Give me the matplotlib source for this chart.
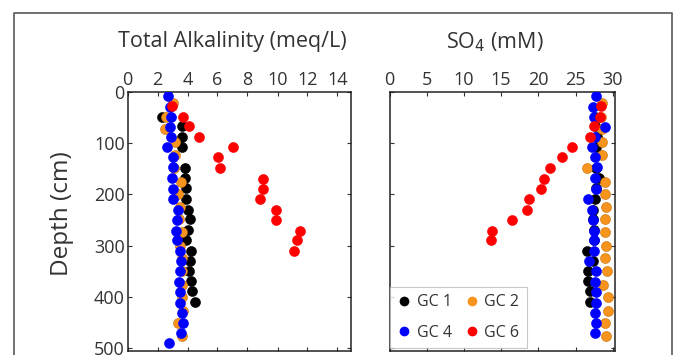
import numpy as np
import matplotlib
matplotlib.use("Agg")
import matplotlib.pyplot as plt
from matplotlib.lines import Line2D

plt.rcParams['font.family'] = ['Open Sans', 'DejaVu Sans']

nan = np.nan
# GC 1
depth_gc1 = [49, 67, 87, 108, 149, 168, 188, 209, 230, 249, 270, 290, 311, 330, 350, 370, 389, 410]
alk_gc1 = [2.27, 3.6, 3.65, 3.6, 3.82, 3.82, 3.89, 3.93, 4.04, 4.15, 4.04, 3.93, 4.2, 4.15, 4.11, 4.2, 4.33, 4.49]
so4_gc1 = [27.6, 27.6, 27.9, 27.7, 27.7, 28.2, 27.8, 27.6, 27.4, 27.4, 27.5, 27.5, 26.5, 27.4, 26.7, 26.7, 27.0, 27.0]
# GC 2
depth_gc2 = [22, 48, 73, 98, 123, 149, 175, 199, 224, 249, 274, 300, 325, 350, 377, 401, 428, 452, 477]
alk_gc2 = [3.04, 2.55, 2.49, 3.15, 3.15, 3.1, 3.55, 3.37, 3.49, 3.4, 3.6, 3.5, 3.6, 3.6, 3.66, 3.6, 3.71, 3.37, 3.6]
so4_gc2 = [28.6, 28.4, 28.5, 28.6, 28.6, 26.6, 28.9, 28.9, 29.1, 29.0, 29.0, 29.1, 29.0, 29.2, 28.7, 29.3, 29.4, 28.9, 29.1]
# GC 4
depth_gc4 = [7, 29, 49, 69, 88, 108, 127, 147, 168, 189, 209, 230, 251, 271, 290, 311, 330, 350, 371, 391, 412, 432, 452, 471, 491]
alk_gc4 = [2.71, 2.8, 2.87, 2.82, 2.87, 2.6, 3.0, 3.0, 2.95, 3.02, 3.04, 3.37, 3.3, 3.22, 3.28, 3.49, 3.58, 3.47, 3.4, 3.53, 3.51, 3.66, 3.73, 3.58, 2.77]
so4_gc4 = [27.8, 27.4, 27.5, 29.0, 27.6, 27.2, 27.6, 27.9, 27.6, 27.7, 26.7, 27.2, 27.3, 27.5, 27.5, 27.5, 26.8, 27.7, 27.6, 27.7, 27.7, 27.6, 27.7, 27.6, nan]
# GC 6
depth_gc6 = [27, 48, 67, 87, 107, 127, 149, 169, 189, 209, 230, 251, 271, 290, 311]
alk_gc6 = [2.97, 3.67, 4.11, 4.77, 7.04, 6.04, 6.15, 9.04, 9.04, 8.82, 9.93, 9.93, 11.49, 11.33, 11.09]
so4_gc6 = [28.4, 28.3, 27.5, 27.0, 24.5, 23.2, 21.5, 20.8, 20.4, 18.7, 18.5, 16.5, 13.8, 13.6, nan]

labels = ['GC 1', 'GC 2', 'GC 4', 'GC 6']
colors = ['#000000', '#F7941D', '#0000FF', '#FF0000']
alk_ticks = [0, 2, 4, 6, 8, 10, 12, 14]
so4_ticks = [0, 5, 10, 15, 20, 25, 30]
depth_ticks = [0, 100, 200, 300, 400, 500]

W, H = 673, 355
fig = plt.figure(figsize=(W / 100, H / 100), dpi=100)

def ax_rect(x0, x1, y0, y1):
    return [x0 / W, 1 - y1 / H, (x1 - x0) / W, (y1 - y0) / H]

ax1 = fig.add_axes(ax_rect(127.5, 351, 92, 350.5))
ax2 = fig.add_axes(ax_rect(389.5, 615, 92, 350.5))

series = [
    (depth_gc1, alk_gc1, so4_gc1),
    (depth_gc2, alk_gc2, so4_gc2),
    (depth_gc4, alk_gc4, so4_gc4),
    (depth_gc6, alk_gc6, so4_gc6),
]
for (d, a, s), c, lab in zip(series, colors, labels):
    ec = c if c != '#F7941D' else '#C8700A'
    ax1.scatter(a, d, s=52, color=c, edgecolors=ec, linewidths=0.4, zorder=3)
    ax2.scatter(s, d, s=52, color=c, edgecolors=ec, linewidths=0.4, zorder=3)

txtc = '#333333'
for ax in (ax1, ax2):
    ax.set_ylim(505, 0)
    ax.set_yticks(depth_ticks)
    ax.xaxis.tick_top()
    ax.tick_params(axis='both', which='both', direction='in', length=3, width=0.8,
                   top=True, bottom=True, left=True, right=True,
                   labeltop=True, labelbottom=False, labelsize=13, colors=txtc,
                   pad=2)
    for sp in ax.spines.values():
        sp.set_linewidth(1.1)
        sp.set_color('#222222')

ax1.set_xlim(0, 14.9)
ax1.set_xticks(alk_ticks)
ax2.set_xlim(0, 30.3)
ax2.set_xticks(so4_ticks)
ax2.tick_params(labelleft=False)

fig.text(62 / W, 1 - 214 / H, 'Depth (cm)', ha='center', va='center', rotation=90,
         fontsize=17.5, color=txtc)
fig.text(232 / W, 1 - 42 / H, 'Total Alkalinity (meq/L)', ha='center', va='center',
         fontsize=15.5, color=txtc)
fig.text(495 / W, 1 - 42 / H, 'SO$_4$ (mM)', ha='center', va='center',
         fontsize=15.5, color=txtc)

# legend: row 1 = GC 1, GC 2 ; row 2 = GC 4, GC 6 (matplotlib fills columns first)
order = [0, 2, 1, 3]
handles = [Line2D([], [], marker='o', linestyle='none', markersize=7, color=colors[i],
                  markeredgewidth=0) for i in order]
leg = ax2.legend(handles, [labels[i] for i in order], ncol=2, loc='upper left',
                 bbox_to_anchor=(0, (350.5 - 287) / 258.5),
                 borderaxespad=0, fontsize=11.5, frameon=True, fancybox=False,
                 handletextpad=0.35, columnspacing=0.8, handlelength=0.9,
                 labelspacing=0.9, borderpad=0.45)
leg.get_frame().set_edgecolor('#bbbbbb')
leg.get_frame().set_linewidth(0.8)
for t in leg.get_texts():
    t.set_color(txtc)

# outer frame
fx0, fx1, fy0 = 14 / W, 671.5 / W, 1 - 13 / H
fig.add_artist(Line2D([fx0, fx0, fx1, fx1], [0, fy0, fy0, 0], transform=fig.transFigure,
                      color='#666666', linewidth=1.3))

fig.savefig('out.png', dpi=100)
